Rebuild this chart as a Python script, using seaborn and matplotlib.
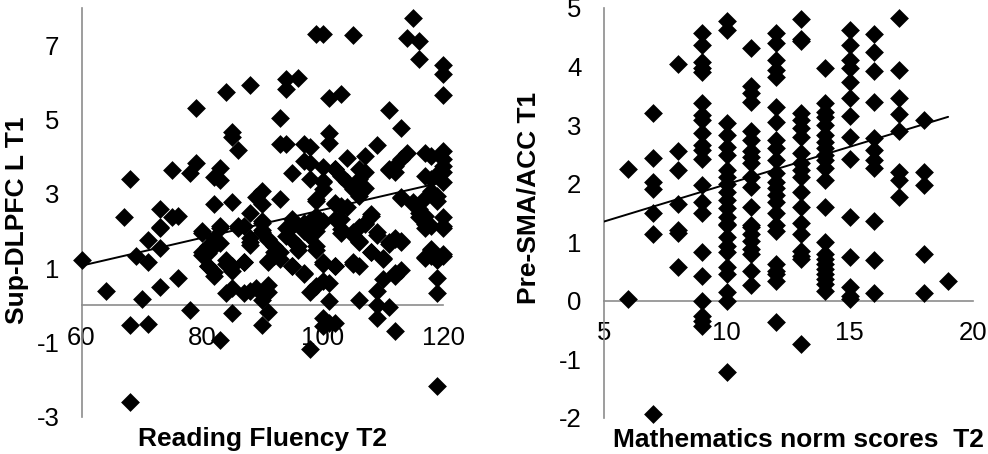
# scatter plots of brain activation vs later scores

import numpy as np
import pandas as pd
import matplotlib
matplotlib.use("Agg")
import matplotlib.pyplot as plt
import seaborn as sns

# left panel, values
fluency = [60, 64, 69, 68, 71, 70, 71, 71, 73, 73, 73, 76, 78, 68, 83, 80, 85, 90, 91, 98,
           100, 101, 102, 100, 101, 106, 109, 111, 109, 112, 119, 119, 119, 109, 110, 112, 113, 98, 99, 100,
           101, 97, 95, 91, 92, 87, 85, 84, 82, 81, 80, 84, 85, 87, 89, 91, 90, 91, 90, 88,
           100, 102, 105, 106, 108, 110, 117, 118, 118, 119, 120, 111, 112, 113, 117, 120,
           81, 82, 83, 82, 83, 86, 88, 88, 90, 91, 92, 93, 94, 95, 96, 97, 98, 99, 103, 105, 106, 109,
           79, 84, 88, 85, 85, 86, 93, 93, 68, 75, 79, 78, 83, 82, 83, 82, 85, 67, 73, 75, 76, 88,
           90, 89, 90, 93, 73, 80, 83, 86, 87, 90,
           94, 94, 96, 99, 100, 105, 115, 114, 116, 116, 120, 120, 120, 101, 103, 111, 113, 101, 101, 94,
           97, 98, 109, 104, 107, 114, 113, 112, 111, 112, 117, 118, 120, 120, 120, 120, 117, 119, 120, 97,
           98, 95, 102, 98, 100, 100, 103, 104, 105, 106, 106, 107, 106, 107, 99, 102, 103, 104, 113, 115,
           116, 118, 119, 117, 116, 120, 120, 108, 107, 90, 95, 97, 100, 102, 103, 98, 95, 106, 118,
           88, 81, 80, 81, 82, 84, 85, 87, 91, 90, 92, 91, 93, 95, 94, 96, 95, 97, 98, 98,
           97, 99, 99, 100, 102, 100, 99, 102, 103, 103, 105, 106, 99, 99, 108, 107, 109, 112, 111, 113,
           108, 110, 100, 102, 105, 113, 115, 116, 117, 119, 117, 118, 118, 117, 119, 120, 112, 111]
sup_dlpfc = [1.21, 0.40, 1.34, -0.52, -0.50, 0.17, 1.16, 1.77, 1.54, 0.50, 2.08, 0.75, -0.13, -2.60, -0.92, 1.95, -0.20, -0.52, -0.18, -1.17,
             -0.34, -0.47, -0.46, -0.55, 0.11, 0.15, -0.34, -0.03, 0.02, -0.70, -2.16, 0.33, 0.74, 0.38, 0.70, 0.87, 0.96, 0.35, 0.51, 0.65,
             0.60, 0.87, 1.07, 1.18, 1.32, 1.16, 1.05, 1.23, 0.78, 1.05, 1.36, 0.33, 0.47, 0.33, 0.47, 0.56, 0.33, 0.35, 0.15, 0.38,
             1.16, 1.05, 1.18, 1.07, 1.43, 1.27, 1.27, 1.52, 1.32, 1.23, 1.32, 1.72, 1.81, 1.72, 2.08, 2.08,
             1.41, 1.59, 1.68, 1.81, 2.08, 2.08, 1.81, 1.63, 2.04, 1.77, 1.59, 1.45, 2.08, 1.77, 1.50, 1.99, 1.86, 1.59, 1.95, 1.90, 1.72, 1.90,
             5.30, 5.75, 5.93, 4.67, 4.53, 4.18, 5.05, 4.34, 3.41, 3.65, 3.82, 3.56, 3.69, 3.46, 3.37, 2.74, 2.77, 2.38, 2.59, 2.39, 2.41, 2.50,
             3.08, 2.93, 2.72, 2.86, 2.10, 2.00, 2.14, 2.14, 2.14, 2.23,
             6.09, 5.82, 6.11, 7.30, 7.30, 7.28, 7.73, 7.20, 7.12, 6.64, 6.47, 6.22, 5.66, 5.59, 5.68, 5.25, 4.77, 4.63, 4.36, 4.34,
             4.34, 4.25, 4.31, 3.96, 4.02, 4.11, 3.93, 3.76, 3.65, 3.58, 4.11, 4.02, 4.16, 3.93, 3.76, 3.58, 3.47, 3.53, 3.31, 3.89,
             3.84, 3.56, 3.67, 3.40, 3.35, 3.13, 3.48, 3.31, 3.13, 2.95, 3.67, 3.58, 3.40, 3.17, 2.82, 2.75, 2.64, 2.64, 2.89, 2.77,
             2.59, 3.08, 2.82, 2.41, 2.37, 2.37, 2.14, 2.41, 2.23, 2.28, 2.32, 2.23, 2.28, 2.32, 2.32, 2.14, 2.14, 2.10, 2.14,
             1.70, 1.06, 1.43, 1.60, 0.89, 1.11, 0.93, 1.16, 1.78, 1.97, 1.43, 1.20, 1.25, 2.14, 1.87, 1.60, 1.07, 0.84, 2.27, 1.87,
             2.05, 2.32, 1.50, 3.72, 3.66, 3.31, 2.86, 2.72, 2.67, 2.05, 1.97, 1.73, 2.40, 2.00, 2.46, 2.19, 1.97, 1.78, 1.65, 1.73,
             1.43, 1.25, 1.11, 1.06, 1.11, 2.91, 2.72, 2.50, 2.19, 2.94, 2.89, 3.40, 1.50, 1.30, 1.25, 1.38, 0.80, 3.66]
fluency_ticks = [60, 80, 100, 120]
dlpfc_ticks = [-3, -1, 1, 3, 5, 7]
fluency_trend_x = [60, 119.5]
fluency_trend_y = [1.07, 3.3]

# right panel, the scores are whole numbers so the points sit in columns
math_levels = [6, 7, 8, 9, 10, 11, 12, 13, 14, 15, 16, 17, 18, 19]
pre_sma_6 = [2.25, 0.02]
pre_sma_7 = [3.21, 2.43, 2.03, 1.90, 1.50, 1.14, -1.93]
pre_sma_8 = [4.05, 2.55, 2.23, 1.65, 1.20, 1.15, 0.57]
pre_sma_9 = [4.57, 4.37, 4.08, 3.97, 3.90, 3.37, 3.17, 3.09, 2.86, 2.66, 2.58, 2.42, 1.98, 1.69, 1.50,
             0.83, 0.42, 0.00, -0.26, -0.34, -0.43]
pre_sma_10 = [4.77, 4.62, 3.03, 2.83, 2.63, 2.49, 2.23, 2.12, 2.00, 1.86, 1.72, 1.58, 1.43, 1.29, 1.31,
              1.09, 0.94, 0.83, 0.57, 0.46, 0.15, 0.00, -1.22]
pre_sma_11 = [4.32, 3.66, 3.54, 3.40, 2.89, 2.75, 2.55, 2.46, 2.35, 2.12, 1.95, 1.60, 1.29, 1.26, 1.14,
              1.02, 0.88, 0.80, 0.51, 0.27]
pre_sma_12 = [4.57, 4.40, 4.11, 3.94, 3.82, 3.31, 3.06, 2.75, 2.60, 2.40, 2.18, 2.03, 1.92, 1.80, 1.69,
              1.50, 1.29, 1.19, 0.63, 0.51, 0.46, 0.34, -0.36]
pre_sma_13 = [4.81, 4.47, 4.44, 3.20, 3.09, 2.95, 2.80, 2.52, 2.35, 2.23, 2.12, 1.85, 1.60, 1.32, 1.14,
              0.85, 0.76, 0.71, -0.74]
pre_sma_14 = [3.97, 3.37, 3.23, 3.14, 3.00, 2.83, 2.71, 2.60, 2.49, 2.40, 2.26, 2.06, 1.60, 1.00, 0.80,
              0.71, 0.63, 0.54, 0.46, 0.37, 0.29, 0.17]
pre_sma_15 = [4.62, 4.37, 4.11, 3.97, 3.74, 3.46, 3.16, 2.80, 2.42, 1.43, 0.74, 0.23, 0.08, 0.03]
pre_sma_16 = [4.55, 4.24, 3.93, 3.40, 2.78, 2.58, 2.40, 2.26, 1.36, 0.70, 0.13]
pre_sma_17 = [4.83, 3.94, 3.46, 3.19, 2.90, 2.20, 2.06, 1.77]
pre_sma_18 = [3.08, 2.20, 1.98, 0.80, 0.13]
pre_sma_19 = [0.33]
math_ticks = [5, 10, 15, 20]
pre_sma_ticks = [-2, -1, 0, 1, 2, 3, 4, 5]
math_trend_x = [5, 19]
math_trend_y = [1.35, 3.14]

pre_sma_columns = [pre_sma_6, pre_sma_7, pre_sma_8, pre_sma_9, pre_sma_10, pre_sma_11, pre_sma_12,
                   pre_sma_13, pre_sma_14, pre_sma_15, pre_sma_16, pre_sma_17, pre_sma_18, pre_sma_19]

left_df = pd.DataFrame({"x": fluency, "y": sup_dlpfc})
right_df = pd.DataFrame({
    "x": np.repeat(math_levels, [len(c) for c in pre_sma_columns]),
    "y": np.concatenate(pre_sma_columns),
})

sns.set_style("white")
plt.rcParams["font.family"] = ["Liberation Sans", "DejaVu Sans"]
plt.rcParams["axes.unicode_minus"] = False

W, H = 988, 454
fig = plt.figure(figsize=(W / 100, H / 100), dpi=100)
ax1 = fig.add_axes([81.5 / W, 1 - 417 / H, 361.5 / W, 409 / H])
ax2 = fig.add_axes([603.7 / W, 1 - 417.7 / H, 369 / W, 409.7 / H])


def draw_panel(ax, df, trend_x, trend_y, xticks, yticks, xlabel, ylabel):
    sns.scatterplot(data=df, x="x", y="y", marker="D", s=92, color="black",
                    linewidth=0, clip_on=False, zorder=3, ax=ax)
    sns.lineplot(x=trend_x, y=trend_y, color="black", linewidth=1.4, zorder=4, ax=ax)
    ax.set_xlim(xticks[0], xticks[-1])
    ax.set_ylim(yticks[0], 8 if yticks[-1] == 7 else yticks[-1])
    ax.set_xticks(xticks)
    ax.set_yticks(yticks)
    ax.spines["top"].set_visible(False)
    ax.spines["right"].set_visible(False)
    ax.spines["bottom"].set_position(("data", 0))
    for side in ["left", "bottom"]:
        ax.spines[side].set_color("#8c8c8c")
        ax.spines[side].set_linewidth(1.2)
    ax.tick_params(axis="x", length=0, pad=15, labelsize=18.5, labelcolor="black")
    ax.tick_params(axis="y", length=0, pad=16, labelsize=18.5, labelcolor="black")
    ax.set_xlabel(xlabel, fontsize=19, fontweight="bold", color="black")
    ax.set_ylabel(ylabel, fontsize=19, fontweight="bold", color="black")
    ax.patch.set_visible(False)


draw_panel(ax1, left_df, fluency_trend_x, fluency_trend_y, fluency_ticks, dlpfc_ticks,
           "Reading Fluency T2", "Sup-DLPFC L T1")
draw_panel(ax2, right_df, math_trend_x, math_trend_y, math_ticks, pre_sma_ticks,
           "Mathematics norm scores  T2", "Pre-SMA/ACC T1")

ax1.xaxis.set_label_coords(0.502, -0.024)
ax1.yaxis.set_label_coords(-0.145, 0.482)
ax2.xaxis.set_label_coords(0.529, -0.024)
ax2.yaxis.set_label_coords(-0.170, 0.536)

fig.savefig("out.png", dpi=100, facecolor="white")
